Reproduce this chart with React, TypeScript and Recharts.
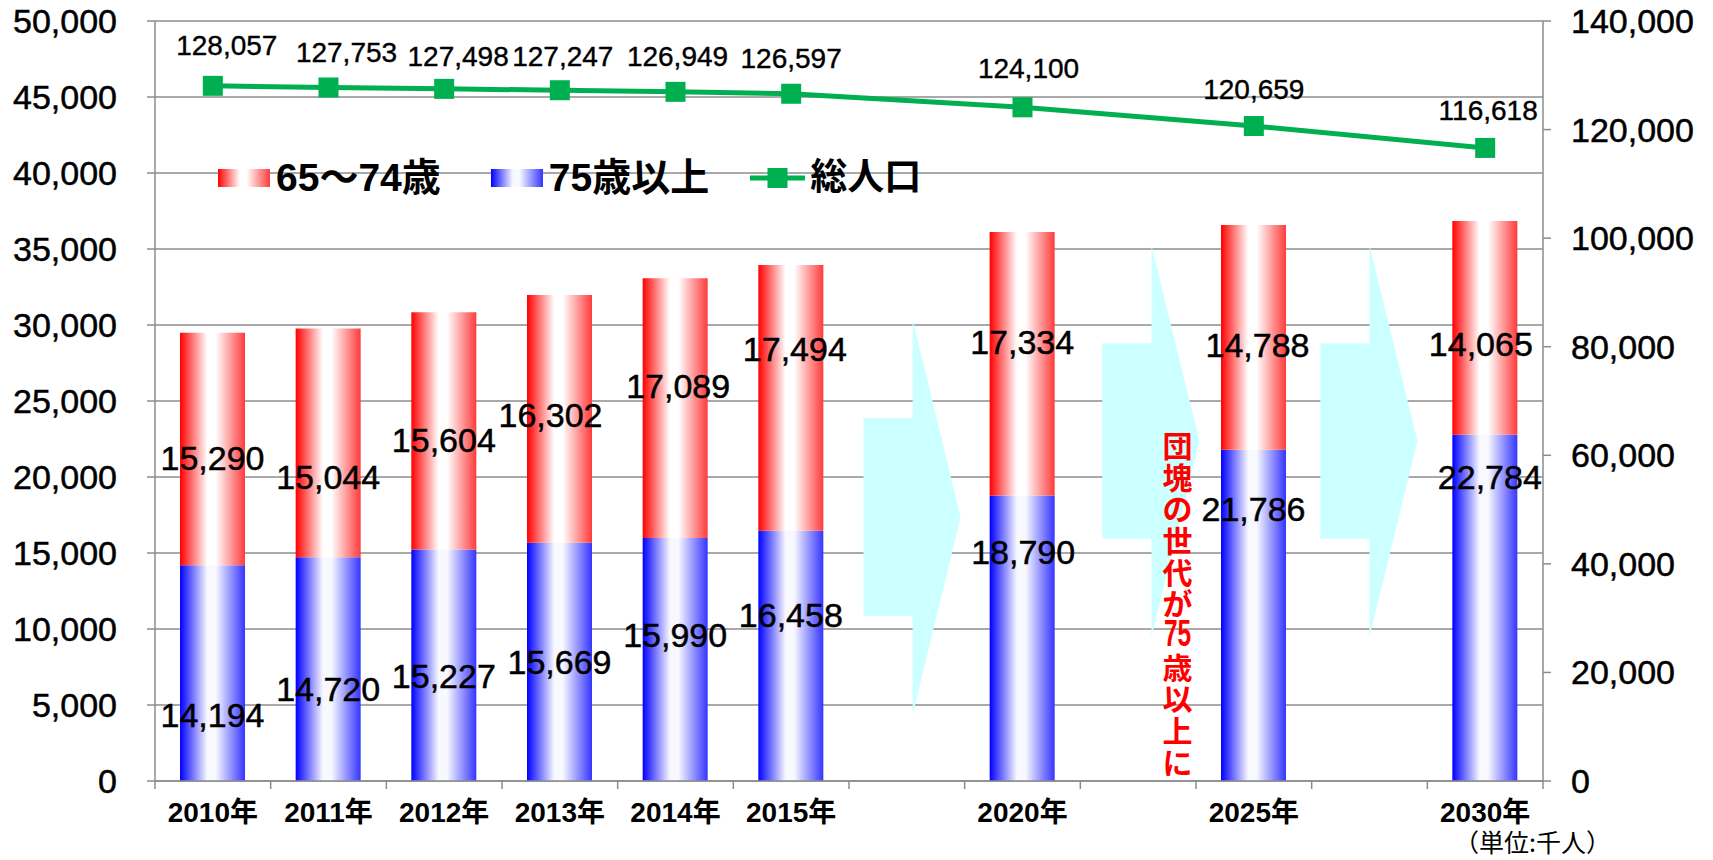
import {
  ComposedChart,
  Bar,
  Line,
  XAxis,
  YAxis,
  CartesianGrid,
  Legend,
  LabelList,
  ReferenceArea,
} from "recharts";

// categories (gap slots hold the arrows)
const slots = ["2010", "2011", "2012", "2013", "2014", "2015", "gap1", "2020", "gap2", "2025", "gap3", "2030"];

// 75歳以上 (千人)
const age75plus = [14194, 14720, 15227, 15669, 15990, 16458, null, 18790, null, 21786, null, 22784];
// 65〜74歳 (千人)
const age65to74 = [15290, 15044, 15604, 16302, 17089, 17494, null, 17334, null, 14788, null, 14065];
// 総人口 (千人)
const totalPop = [128057, 127753, 127498, 127247, 126949, 126597, null, 124100, null, 120659, null, 116618];

const leftTicks = [0, 5000, 10000, 15000, 20000, 25000, 30000, 35000, 40000, 45000, 50000];
const rightTicks = [0, 20000, 40000, 60000, 80000, 100000, 120000, 140000];

const seriesNames = { young: "65〜74歳", old: "75歳以上", total: "総人口" };
const noteChars = ["団", "塊", "の", "世", "代", "が", "75", "歳", "以", "上", "に"];
const unitText = "（単位:千人）";

const rows = slots.map((slot, i) => ({
  slot,
  old: age75plus[i],
  young: age65to74[i],
  total: totalPop[i],
}));

// ---- styling ----
const NUM_FONT = "'Liberation Sans', Arial, 'Noto Sans CJK JP', sans-serif";
const GRID = "#8c8c8c";
const GREEN = "#00B050";
const RED_CSS = "linear-gradient(to right, #ff0000 0%, #ffffff 42%, #ffffff 55%, #ff3b3b 100%)";
const BLUE_CSS = "linear-gradient(to right, #0000ff 0%, #f8f8ff 42%, #f8f8ff 55%, #3535ff 100%)";

// hand placement of the data labels, as in the original slide (per slot)
const oldLabelDx = [0, 0, 0, 0, 0, 0, 0, 1, 0, 0, 0, 5];
const oldLabelDy = [42, 20, 11, 0, -24, -41, 0, -86, 0, -106, 0, -131];
const youngLabelDx = [0, 0, 0, -9, 3, 4, 0, 0, 0, 4, 0, -4];
const youngLabelDy = [9, 34, 9, -4, -22, -49, 0, -22, 0, 8, 0, 16];
const totalLabelDx = [14, 18, 14, 3, 2, 0, 0, 6, 0, 0, 0, 3];
const totalLabelUp = [40, 35, 32, 34, 35, 35, 0, 39, 0, 36, 0, 37];

const ARROWS = [
  { slot: "gap1", low: 4335, high: 30390, start: 0.125 },
  { slot: "gap2", low: 9500, high: 35225, start: 0.19 },
  { slot: "gap3", low: 9500, high: 35225, start: 0.075 },
];

const fmt = (v: number) => v.toLocaleString("en-US");

// LabelList skips the empty slots, so find the slot from the value itself
function barLabel(series: (number | null)[], dataDx: number[], dataDy: number[]) {
  return (props: any) => {
    const { x, y, width, height, value } = props;
    if (value == null || Number.isNaN(Number(x))) return null;
    const i = series.indexOf(Number(value));
    const cx = Number(x) + Number(width) / 2 + (dataDx[i] ?? 0);
    const cy = Number(y) + Number(height) / 2 + (dataDy[i] ?? 0);
    return (
      <text
        x={cx}
        y={cy}
        textAnchor="middle"
        dominantBaseline="central"
        fontFamily={NUM_FONT}
        fontSize={34}
        fill="#000"
        stroke="#000"
        strokeWidth={0.5}
      >
        {fmt(Number(value))}
      </text>
    );
  };
}

function totalLabel(props: any) {
  const { x, y, value } = props;
  if (value == null || x == null || y == null) return null;
  const i = totalPop.indexOf(Number(value));
  return (
    <text
      x={Number(x) + (totalLabelDx[i] ?? 0)}
      y={Number(y) - (totalLabelUp[i] ?? 35)}
      textAnchor="middle"
      dominantBaseline="central"
      fontFamily={NUM_FONT}
      fontSize={28}
      fill="#000"
      stroke="#000"
      strokeWidth={0.4}
    >
      {fmt(Number(value))}
    </text>
  );
}

function SquareDot(props: any) {
  const { cx, cy, index } = props;
  if (cx == null || cy == null) return <g key={`d${index}`} />;
  return <rect key={`d${index}`} x={cx - 10} y={cy - 10} width={20} height={20} fill={GREEN} />;
}

function YearTick(props: any) {
  const { x, y, payload, index, visibleTicksCount } = props;
  const half = payload?.offset ?? 0;
  const axisY = y - 8 - 13;
  const v = String(payload.value);
  const label = v.startsWith("gap") ? "" : `${v}年`;
  return (
    <g>
      <line x1={x - half} x2={x - half} y1={axisY} y2={axisY + 8} stroke={GRID} strokeWidth={1.5} />
      {index === visibleTicksCount - 1 && (
        <line x1={x + half} x2={x + half} y1={axisY} y2={axisY + 8} stroke={GRID} strokeWidth={1.5} />
      )}
      {label && (
        <text x={x} y={y} dy="0.71em" textAnchor="middle" fontFamily={NUM_FONT} fontWeight={700} fontSize={28} fill="#000">
          {label}
        </text>
      )}
    </g>
  );
}

function makeArrow(start: number) {
  return (props: any) => {
    const { x, y, width, height } = props;
    const left = x + start * width;
    const mid = left + 0.425 * width;
    const tip = left + 0.84 * width;
    const pts = [
      [left, y + 0.25 * height],
      [mid, y + 0.25 * height],
      [mid, y],
      [tip, y + 0.5 * height],
      [mid, y + height],
      [mid, y + 0.75 * height],
      [left, y + 0.75 * height],
    ]
      .map((p) => p.join(","))
      .join(" ");
    return <polygon points={pts} fill="#CCFFFF" stroke="none" />;
  };
}

function VerticalNote(props: any) {
  const { x, y, width, height } = props;
  const cx = x + width * 0.84;
  const cell = height / noteChars.length;
  return (
    <g>
      {noteChars.map((c, i) => {
        const cy = y + cell * (i + 0.5);
        if (c.length > 1) {
          // upright digits squeezed into one cell
          return (
            <g key={i} transform={`translate(${cx} ${cy}) scale(0.68 1)`}>
              <text
                x={0}
                y={0}
                textAnchor="middle"
                dominantBaseline="central"
                fontFamily="'Liberation Sans', Arial, sans-serif"
                fontWeight={700}
                fontSize={36}
                fill="#FF0000"
              >
                {c}
              </text>
            </g>
          );
        }
        return (
          <text
            key={i}
            x={cx}
            y={cy}
            textAnchor="middle"
            dominantBaseline="central"
            fontFamily="'Noto Sans CJK JP', sans-serif"
            fontWeight={700}
            fontSize={30}
            fill="#FF0000"
          >
            {c}
          </text>
        );
      })}
    </g>
  );
}

function ChartLegend() {
  const text = { fontFamily: NUM_FONT, fontWeight: 700, fontSize: 39, color: "#000", lineHeight: "44px" };
  return (
    <div style={{ display: "flex", alignItems: "center", height: 44, whiteSpace: "nowrap" }}>
      <span style={{ display: "inline-block", width: 52, height: 18, background: RED_CSS }} />
      <span style={{ ...text, marginLeft: 6 }}>{seriesNames.young}</span>
      <span style={{ display: "inline-block", width: 52, height: 18, background: BLUE_CSS, marginLeft: 50 }} />
      <span style={{ ...text, marginLeft: 6 }}>{seriesNames.old}</span>
      <svg width={55} height={20} style={{ marginLeft: 41 }}>
        <line x1={0} x2={55} y1={10} y2={10} stroke={GREEN} strokeWidth={5} strokeLinecap="round" />
        <rect x={17.5} y={0} width={20} height={20} fill={GREEN} />
      </svg>
      <span style={{ ...text, fontSize: 37, marginLeft: 5 }}>{seriesNames.total}</span>
    </div>
  );
}

export default function App() {
  return (
    <div style={{ position: "absolute", left: 0, top: 0, width: 1713, height: 860, background: "#fff" }}>
      <ComposedChart width={1713} height={860} data={rows} margin={{ top: 21, right: 0, bottom: 0, left: 0 }}>
        <defs>
          <linearGradient id="redGrad" x1="0" y1="0" x2="1" y2="0">
            <stop offset="0%" stopColor="#ff0000" />
            <stop offset="42%" stopColor="#ffffff" />
            <stop offset="55%" stopColor="#ffffff" />
            <stop offset="100%" stopColor="#ff3b3b" />
          </linearGradient>
          <linearGradient id="blueGrad" x1="0" y1="0" x2="1" y2="0">
            <stop offset="0%" stopColor="#0000ff" />
            <stop offset="42%" stopColor="#f8f8ff" />
            <stop offset="55%" stopColor="#f8f8ff" />
            <stop offset="100%" stopColor="#3535ff" />
          </linearGradient>
        </defs>
        <CartesianGrid yAxisId="left" vertical={false} stroke={GRID} strokeWidth={1.5} />
        <XAxis
          dataKey="slot"
          height={79}
          interval={0}
          tickLine={false}
          tickSize={8}
          tickMargin={13}
          axisLine={{ stroke: GRID, strokeWidth: 1.5 }}
          tick={<YearTick />}
        />
        <YAxis
          yAxisId="left"
          width={155}
          domain={[0, 50000]}
          ticks={leftTicks}
          interval={0}
          tickSize={8}
          tickMargin={30}
          tickFormatter={fmt}
          axisLine={{ stroke: GRID, strokeWidth: 1.5 }}
          tickLine={{ stroke: GRID, strokeWidth: 1.5 }}
          tick={{ fill: "#000", stroke: "#000", strokeWidth: 0.5, fontSize: 34, fontFamily: NUM_FONT }}
        />
        <YAxis
          yAxisId="right"
          orientation="right"
          width={170}
          domain={[0, 140000]}
          ticks={rightTicks}
          interval={0}
          tickSize={8}
          tickMargin={20}
          tickFormatter={fmt}
          axisLine={{ stroke: GRID, strokeWidth: 1.5 }}
          tickLine={{ stroke: GRID, strokeWidth: 1.5 }}
          tick={{ fill: "#000", stroke: "#000", strokeWidth: 0.5, fontSize: 34, fontFamily: NUM_FONT }}
        />
        {ARROWS.map((a) => (
          <ReferenceArea
            key={a.slot}
            yAxisId="left"
            x1={a.slot}
            x2={a.slot}
            y1={a.low}
            y2={a.high}
            shape={makeArrow(a.start)}
          />
        ))}
        <Bar yAxisId="left" dataKey="old" name={seriesNames.old} stackId="age" barSize={65} fill="url(#blueGrad)" isAnimationActive={false}>
          <LabelList dataKey="old" content={barLabel(age75plus, oldLabelDx, oldLabelDy)} />
        </Bar>
        <Bar yAxisId="left" dataKey="young" name={seriesNames.young} stackId="age" barSize={65} fill="url(#redGrad)" isAnimationActive={false}>
          <LabelList dataKey="young" content={barLabel(age65to74, youngLabelDx, youngLabelDy)} />
        </Bar>
        <ReferenceArea yAxisId="left" x1="gap2" x2="gap2" y1={300} y2={23200} shape={VerticalNote} />
        <Line
          yAxisId="right"
          type="linear"
          dataKey="total"
          name={seriesNames.total}
          stroke={GREEN}
          strokeWidth={5}
          connectNulls
          dot={SquareDot}
          activeDot={false}
          isAnimationActive={false}
        >
          <LabelList dataKey="total" content={totalLabel} />
        </Line>
        <Legend
          layout="horizontal"
          verticalAlign="middle"
          align="center"
          content={<ChartLegend />}
          wrapperStyle={{ left: 218, top: 156, width: "auto", height: 44 }}
        />
      </ComposedChart>
      <div
        style={{
          position: "absolute",
          left: 1411,
          top: 826,
          width: 200,
          textAlign: "right",
          fontFamily: "'Noto Sans CJK JP', sans-serif",
          fontSize: 25,
          lineHeight: "30px",
          color: "#000",
          whiteSpace: "nowrap",
        }}
      >
        {unitText}
      </div>
    </div>
  );
}
